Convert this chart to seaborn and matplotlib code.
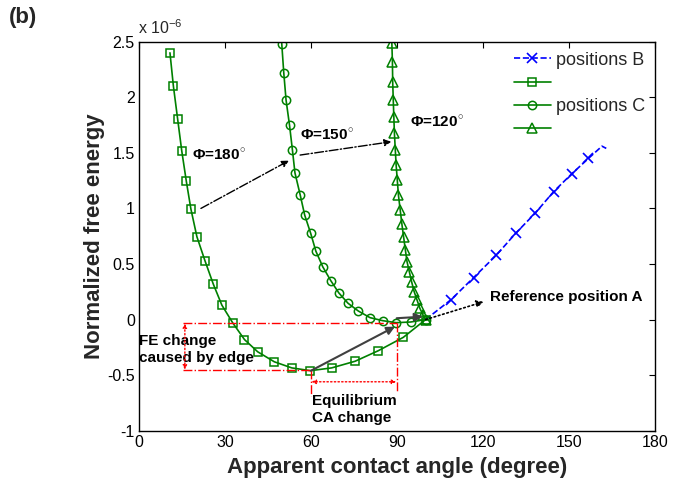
import matplotlib
matplotlib.use("Agg")
import matplotlib.pyplot as plt
import seaborn as sns
import numpy as np

# ---------------- data ----------------
sq_x = [10.8, 12.0, 13.5, 14.9, 16.5, 18.1, 20.2, 23.0, 25.9, 28.9, 32.7, 36.8, 41.4,
        47.2, 53.3, 59.8, 67.2, 75.4, 83.5, 92.2, 100.0]
sq_y = [2.40, 2.10, 1.80, 1.52, 1.245, 0.995, 0.745, 0.53, 0.32, 0.13, -0.03, -0.18,
        -0.29, -0.38, -0.435, -0.46, -0.435, -0.375, -0.28, -0.16, 0.0]

ci_x = [49.6, 49.8, 50.5, 51.3, 52.5, 53.5, 54.4, 56.2, 57.8, 59.9, 61.7, 64.1, 66.9, 69.7,
        72.9, 76.5, 80.6, 85.0, 89.7, 94.8, 100.0]
ci_y = [2.6, 2.48, 2.22, 1.975, 1.75, 1.53, 1.32, 1.125, 0.94, 0.775, 0.615, 0.475, 0.35,
        0.24, 0.147, 0.077, 0.017, -0.01, -0.028, -0.022, 0.0]

tr_x = [88.1, 88.2, 88.4, 88.5, 88.7, 88.9, 89.1, 89.4, 89.7, 90.1, 90.5, 91.1, 91.7, 92.3,
        92.9, 93.5, 94.3, 95.1, 96.0, 97.0, 98.0, 99.1, 100.0]
tr_y = [2.6, 2.49, 2.32, 2.14, 1.975, 1.82, 1.675, 1.53, 1.39, 1.255, 1.12, 0.99, 0.86,
        0.745, 0.63, 0.52, 0.43, 0.34, 0.25, 0.175, 0.10, 0.04, 0.0]

b_x = [100.0, 108.9, 116.7, 124.6, 131.4, 138.3, 144.6, 150.9, 156.8, 161.5, 163.0]
b_y = [0.0, 0.18, 0.377, 0.578, 0.776, 0.96, 1.15, 1.31, 1.45, 1.56, 1.54]

legend_labels = ["positions B", "", "positions C", ""]
x_ticks = [0, 30, 60, 90, 120, 150, 180]
y_ticks = [-1, -0.5, 0, 0.5, 1, 1.5, 2, 2.5]
y_ticklabels = ["-1", "-0.5", "0", "0.5", "1", "1.5", "2", "2.5"]

# ---------------- style ----------------
sns.set_theme(style="white")
plt.rcParams["font.family"] = ["Liberation Sans", "DejaVu Sans"]
plt.rcParams["mathtext.fontset"] = "custom"
plt.rcParams["mathtext.rm"] = "Liberation Sans"
plt.rcParams["mathtext.bf"] = "Liberation Sans:bold"

green = "#008000"
blue = "#0000ff"

fig = plt.figure(figsize=(6.75, 4.83), dpi=100)
ax = fig.add_axes([139 / 675, 1 - 430.7 / 483, (655 - 139) / 675, (430.7 - 41.7) / 483])

sns.lineplot(x=b_x, y=b_y, ax=ax, sort=False, color=blue, linestyle="--", lw=1.2,
             marker="x", markersize=7, markeredgecolor=blue, mew=1.2,
             markevery=list(range(1, 9)), label="positions B")
sns.lineplot(x=sq_x, y=sq_y, ax=ax, sort=False, color=green, lw=1.2,
             marker="s", markersize=6, markerfacecolor="none", markeredgecolor=green,
             mew=1.1, label="sq")
sns.lineplot(x=ci_x, y=ci_y, ax=ax, sort=False, color=green, lw=1.2,
             marker="o", markersize=6, markerfacecolor="none", markeredgecolor=green,
             mew=1.1, markevery=list(range(1, len(ci_x))), label="positions C")
sns.lineplot(x=tr_x, y=tr_y, ax=ax, sort=False, color=green, lw=1.2,
             marker="^", markersize=7, markerfacecolor="none", markeredgecolor=green,
             mew=1.1, markevery=list(range(1, len(tr_x))), label="tr")

handles = ax.get_lines()[:4]
leg = ax.legend(handles, legend_labels, loc="upper right", frameon=False,
                fontsize=13, handlelength=2.0, handletextpad=0.3,
                labelspacing=0.35, bbox_to_anchor=(1.0, 1.0), borderaxespad=0.15)

ax.set_xlim(0, 180)
ax.set_ylim(-1, 2.5)
ax.set_xticks(x_ticks)
ax.set_yticks(y_ticks)
ax.set_yticklabels(y_ticklabels)
ax.tick_params(direction="in", length=4, width=0.8, top=True, right=True,
               labelsize=11.5, colors="black", pad=3)
for s in ax.spines.values():
    s.set_color("black")
    s.set_linewidth(1.0)

ax.set_xlabel("Apparent contact angle (degree)", fontsize=16, fontweight="bold", labelpad=5)
ax.set_ylabel("Normalized free energy", fontsize=16, fontweight="bold", labelpad=1.5)

# exponent and panel label
fig.text(138 / 675, 1 - 34 / 483, r"x 10$^{-6}$", fontsize=11.5, ha="left", va="baseline")
fig.text(9 / 675, 1 - 18 / 483, "(b)", fontsize=16, fontweight="bold", ha="left", va="center")

# ---------------- annotations ----------------
txtkw = dict(fontsize=11, fontweight="bold", color="black")
ax.text(18.4, 1.48, r"Φ=180$^{\circ}$", ha="left", va="center", **txtkw)
ax.text(56.2, 1.66, r"Φ=150$^{\circ}$", ha="left", va="center", **txtkw)
ax.text(94.6, 1.77, r"Φ=120$^{\circ}$", ha="left", va="center", **txtkw)
ax.text(122.5, 0.205, "Reference position A", ha="left", va="center", **txtkw)
ax.text(0.0, -0.27, "FE change\ncaused by edge", ha="left", va="center",
        linespacing=1.2, **txtkw)
ax.text(60.5, -0.81, "Equilibrium\nCA change", ha="left", va="center",
        linespacing=1.2, **txtkw)

# black dash-dot arrows
ax.annotate("", xy=(52.3, 1.43), xytext=(21.6, 1.0),
            arrowprops=dict(arrowstyle="-|>", linestyle="-.", color="black", lw=1,
                            mutation_scale=10, shrinkA=0, shrinkB=0))
ax.annotate("", xy=(88.0, 1.60), xytext=(56.2, 1.48),
            arrowprops=dict(arrowstyle="-|>", linestyle="-.", color="black", lw=1,
                            mutation_scale=10, shrinkA=0, shrinkB=0))
# dotted arrow to reference label
ax.annotate("", xy=(120.2, 0.16), xytext=(100, 0),
            arrowprops=dict(arrowstyle="-|>", linestyle=":", color="black", lw=1.2,
                            mutation_scale=10, shrinkA=0, shrinkB=0))
# gray solid arrows
ax.annotate("", xy=(89.3, -0.064), xytext=(60, -0.46),
            arrowprops=dict(arrowstyle="-|>", color="#404040", lw=1.5,
                            mutation_scale=12, shrinkA=0, shrinkB=0))
ax.annotate("", xy=(99.0, 0.026), xytext=(89.9, 0.012),
            arrowprops=dict(arrowstyle="-|>", color="#404040", lw=1.5,
                            mutation_scale=12, shrinkA=0, shrinkB=0))

# red dash-dot guide lines
red = "#ff0000"
ax.plot([15.5, 89.9], [-0.03, -0.03], color=red, ls="-.", lw=1)
ax.plot([15.5, 60], [-0.455, -0.455], color=red, ls="-.", lw=1)
ax.plot([60, 60], [-0.455, -0.69], color=red, ls="-.", lw=1)
ax.plot([89.9, 89.9], [-0.03, -0.65], color=red, ls="-.", lw=1)
# red dotted double arrows
ax.annotate("", xy=(16.0, -0.035), xytext=(16.0, -0.45),
            arrowprops=dict(arrowstyle="<|-|>", linestyle=":", color=red, lw=1,
                            mutation_scale=6, shrinkA=0, shrinkB=0))
ax.annotate("", xy=(60.2, -0.56), xytext=(89.7, -0.56),
            arrowprops=dict(arrowstyle="<|-|>", linestyle=":", color=red, lw=1,
                            mutation_scale=6, shrinkA=0, shrinkB=0))

fig.savefig("out.png", dpi=100)
